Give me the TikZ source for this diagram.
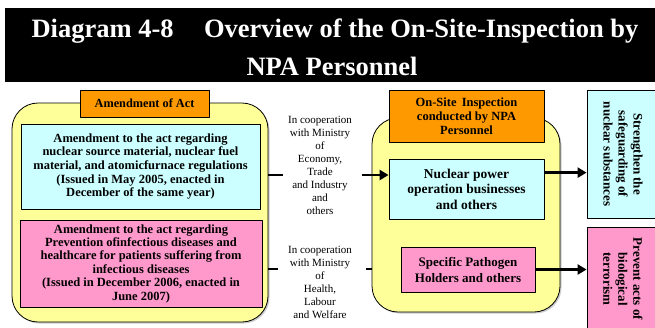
\documentclass[tikz,border=0pt]{standalone}
\usepackage{fontspec}
\setmainfont{Liberation Serif}[BoldFont={Liberation Serif Bold}]
\usetikzlibrary{arrows.meta,shadows}

\definecolor{paleyellow}{HTML}{FFFF99}
\definecolor{palecyan}{HTML}{CCFFFF}
\definecolor{palepink}{HTML}{FF99CC}
\definecolor{actorange}{HTML}{FF9900}

\tikzset{
  headline/.style={anchor=base, text=white, inner sep=0pt, font=\fontsize{26.5}{34}\selectfont\bfseries},
  panel/.style={draw, line width=0.8pt, fill=paleyellow, rounded corners=26pt,
    drop shadow={shadow xshift=1.5pt, shadow yshift=-1.5pt, fill=black!40}},
  box/.style={draw, line width=0.8pt, align=center, inner sep=1pt},
  goal/.style={box, rotate=-90, minimum height=72pt, font=\fontsize{13}{15}\selectfont\bfseries},
  coop/.style={align=center, font=\fontsize{11}{13}\selectfont},
  link/.style={line width=2.4pt},
  arr/.style={link, -{Triangle[length=9pt,width=10pt]}},
}

\begin{document}
\begin{tikzpicture}[x=1pt, y=-1pt, line join=round]
  \clip (0,0) rectangle (655,327);
  % title bar
  \fill[black] (5,8) rectangle (655,82);
  \node[headline] (title) at (335,37) {Diagram 4-8\hspace{0.9em} Overview of the On-Site-Inspection by};
  \node[headline] (subtitle) at (332,75) {NPA Personnel};

  % the two yellow panels
  \node[panel, minimum width=256pt, minimum height=219pt] (lpanel) at (140,212.5) {};
  \node[panel, minimum width=188pt, minimum height=194pt] (rpanel) at (466,215) {};

  % left side: the amendments
  \node[box, fill=actorange, minimum width=129pt, minimum height=27pt,
    font=\fontsize{12.3}{14}\selectfont\bfseries] (act) at (144.5,103.5) {Amendment of Act};
  \node[box, fill=palecyan, minimum width=239pt, minimum height=85pt,
    font=\fontsize{12.5}{13.6}\selectfont\bfseries] (lawA) at (140.5,166.5)
    {Amendment to the act regarding\\nuclear source material, nuclear fuel\\material, and atomicfurnace regulations\\(Issued in May 2005, enacted in\\December of the same year)};
  \node[box, fill=palepink, minimum width=242pt, minimum height=87pt,
    font=\fontsize{12.5}{13.4}\selectfont\bfseries] (lawB) at (141,263.5)
    {Amendment to the act regarding\\Prevention ofinfectious diseases and\\healthcare for patients suffering from\\infectious diseases\\(Issued in December 2006, enacted in\\June 2007)};

  % cooperation notes
  \node[coop] (coopA) at (320,165) {In cooperation\\with Ministry\\of\\Economy,\\Trade\\and Industry\\and\\others};
  \node[coop] (coopB) at (320,282) {In cooperation\\with Ministry\\of\\Health,\\Labour\\and Welfare};

  % right panel: inspection
  \node[box, fill=actorange, minimum width=155pt, minimum height=52pt,
    font=\fontsize{12.5}{14}\selectfont\bfseries] (osi) at (466.5,116)
    {On-Site\, Inspection\\conducted by NPA\\Personnel};
  \node[box, fill=palecyan, minimum width=155pt, minimum height=60pt,
    font=\fontsize{13.5}{15.5}\selectfont\bfseries] (nuc) at (466.5,189)
    {Nuclear power\\operation businesses\\and others};
  \node[box, fill=palepink, minimum width=134pt, minimum height=45pt,
    font=\fontsize{13}{16}\selectfont\bfseries] (patho) at (468,269.5)
    {Specific Pathogen\\Holders and others};

  % goals
  \node[goal, fill=palecyan, minimum width=128pt] (goalA) at (623,154)
    {Strengthen the\\safeguarding of\\nuclear substances};
  \node[goal, fill=palepink, minimum width=104pt] (goalB) at (623,279)
    {Prevent acts of\\biological\\terrorism};

  % connectors
  \coordinate (stubA) at (283,175);
  \coordinate (tailA) at (362,175);
  \coordinate (stubB) at (278,269);
  \coordinate (tailB) at (366,269);
  \draw[link] (lpanel.east |- stubA) -- (stubA);
  \draw[arr] (tailA) -- (tailA -| nuc.west);
  \draw[link] (lpanel.east |- stubB) -- (stubB);
  \draw[link] (tailB) -- (tailB -| rpanel.west);
  \path (nuc.north east) ++(0,14) coordinate (tailC);
  \draw[arr] (tailC) -- (tailC -| goalA.south);
  \draw[arr] (patho.east) -- (patho.east -| goalB.south);
\end{tikzpicture}
\end{document}
